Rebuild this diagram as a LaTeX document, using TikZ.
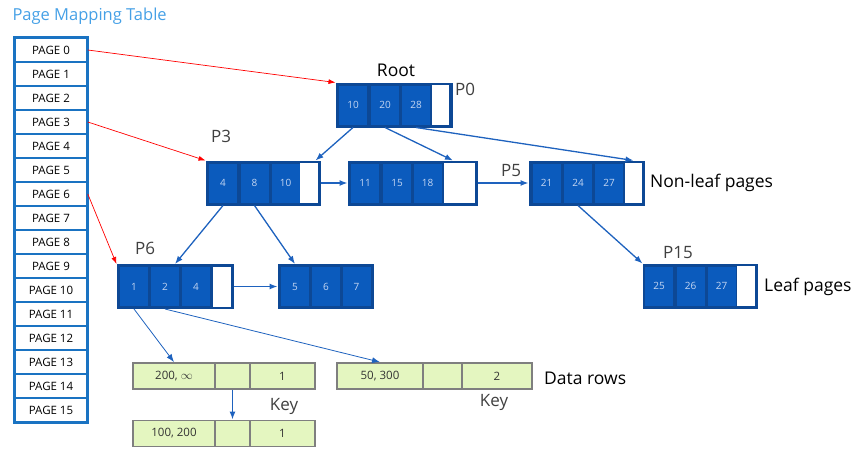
\documentclass[tikz,border=0pt]{standalone}
\usepackage{fontspec}
\setmainfont{Open Sans}
\usetikzlibrary{arrows.meta,calc}
\definecolor{tblblue}{HTML}{1A73C2}
\definecolor{frameblue}{HTML}{0D4895}
\definecolor{cellblue}{HTML}{0B5BBD}
\definecolor{celltext}{HTML}{C4D6F2}
\definecolor{rowfill}{HTML}{E4F6C0}
\definecolor{rowline}{HTML}{7F7F7F}
\definecolor{titleblue}{HTML}{45A0E6}
\definecolor{arrowblue}{HTML}{1E62BE}
\begin{document}
\begin{tikzpicture}[x=1pt,y=-1pt,
    pagerow/.style={draw=tblblue,line width=1.6pt,fill=white,minimum width=72,
      minimum height=24,inner sep=0pt,font=\fontsize{11.5}{13}\selectfont},
    frame/.style={draw=frameblue,fill=frameblue,line width=1pt,minimum height=44,inner sep=0pt},
    key/.style={fill=cellblue,draw=frameblue,line width=0.6pt,minimum width=29,
      minimum height=40,inner sep=0pt,text=celltext,font=\fontsize{10}{11}\selectfont},
    free/.style={fill=white,minimum width=18,minimum height=40,inner sep=0pt},
    row/.style={draw=rowline,fill=rowfill,line width=1.8pt,minimum height=26,
      inner sep=0pt,font=\fontsize{11.5}{13}\selectfont,text=black!80},
    lbl/.style={font=\fontsize{17.5}{20}\selectfont,inner sep=0pt},
    plbl/.style={font=\fontsize{17}{20}\selectfont,inner sep=0pt,text=black!75},
    link/.style={draw=arrowblue,line width=1.3pt,-{Latex[length=8pt,width=6pt]}},
    ptr/.style={draw=red,line width=0.7pt,-{Latex[length=7pt,width=5pt]}}]
  \useasboundingbox (0,0) rectangle (863,450);
  \node[anchor=west,text=titleblue,font=\fontsize{16.5}{19}\selectfont] (title) at (9,16) {Page Mapping Table};
  % page mapping table
  \foreach \i in {0,...,15}
    \node[pagerow] (pg\i) at (51,50+24*\i) {PAGE \i};
  \draw[tblblue,line width=2.6pt] (pg0.north west) rectangle (pg15.south east);
  % root
  \node[frame,minimum width=116] (root) at (394,105) {};
  \node[key] (r10) at (353,105) {10};
  \node[key] (r20) at (385,105) {20};
  \node[key] (r28) at (416,105) {28};
  \node[free,minimum width=17] (rw) at (440.5,105) {};
  % non-leaf pages
  \node[frame,minimum width=114] (p3) at (263,183) {};
  \node[key] (p3k4) at (223,183) {4};
  \node[key] (p3k8) at (254.5,183) {8};
  \node[key] (p3k10) at (285.5,183) {10};
  \node[free] (p3w) at (309,183) {};
  \node[frame,minimum width=129] (mid) at (412.5,183) {};
  \node[key] (mk11) at (365,183) {11};
  \node[key] (mk15) at (397,183) {15};
  \node[key] (mk18) at (427.5,183) {18};
  \node[free,minimum width=31] (mw) at (459.5,183) {};
  \node[frame,minimum width=115] (p5) at (586.5,183) {};
  \node[key] (p5k21) at (546.5,183) {21};
  \node[key] (p5k24) at (578,183) {24};
  \node[key] (p5k27) at (609,183) {27};
  \node[free,minimum width=17] (p5w) at (633.5,183) {};
  % leaf pages
  \node[frame,minimum width=116] (p6) at (175,286.5) {};
  \node[key] (p6k1) at (134,286.5) {1};
  \node[key] (p6k2) at (165,286.5) {2};
  \node[key] (p6k4) at (196,286.5) {4};
  \node[free] (p6w) at (222,286.5) {};
  \node[frame,minimum width=95] (lf) at (325.5,286.5) {};
  \node[key] (l5) at (295,286.5) {5};
  \node[key] (l6) at (326,286.5) {6};
  \node[key] (l7) at (356.5,286.5) {7};
  \node[frame,minimum width=114] (p15) at (700,286) {};
  \node[key] (p15k25) at (659,286) {25};
  \node[key] (p15k26) at (690.5,286) {26};
  \node[key] (p15k27) at (721.5,286) {27};
  \node[free] (p15w) at (746,286) {};
  % data rows
  \node[row,minimum width=82] (d1a) at (174,376) {200, $\infty$};
  \node[row,minimum width=35] (d1b) at (232.5,376) {};
  \node[row,minimum width=65] (d1c) at (282.5,376) {1};
  \node[row,minimum width=86] (d2a) at (380,376) {50, 300};
  \node[row,minimum width=39] (d2b) at (442.5,376) {};
  \node[row,minimum width=70] (d2c) at (497,376) {2};
  \node[row,minimum width=82] (d3a) at (174,433.5) {100, 200};
  \node[row,minimum width=35] (d3b) at (232.5,433.5) {};
  \node[row,minimum width=65] (d3c) at (282.5,433.5) {1};
  % labels
  \node[lbl] (lroot) at (396,70) {Root};
  \node[plbl] (lp0) at (465,89) {P0};
  \node[plbl] (lp3) at (221,136) {P3};
  \node[plbl] (lp5) at (511,171) {P5};
  \node[plbl] (lp6) at (145,248) {P6};
  \node[plbl] (lp15) at (678,253) {P15};
  \node[lbl,anchor=west] (lnonleaf) at (650,183) {Non-leaf pages};
  \node[lbl,anchor=west] (lleaf) at (764,287) {Leaf pages};
  \node[lbl,anchor=west] (ldata) at (544,378) {Data rows};
  \node[plbl] (lkey1) at (284,406) {Key};
  \node[plbl] (lkey2) at (494,402) {Key};
  \begin{scope}[ptr]
    \draw (pg0.east) to (root.north west);
    \draw (pg3.east) to (p3.north west);
    \draw (pg6.east) to (p6.north west);
  \end{scope}
  \begin{scope}[link]
    \draw (r10.south |- root.south) to ($(p3.north east)+(-5,0)$);
    \draw (r20.south |- root.south) to ($(mid.north)+(40.5,0)$);
    \draw (r28.south |- root.south) to (p5.north -| p5w.center);
    \draw (p3.east) to (mid.west);
    \draw (mid.east) to (p5.west);
    \draw (p3k4.south |- p3.south) to (p6.north);
    \draw (p3k8.south |- p3.south) to (lf.north -| l5.center);
    \draw (p6.east) to (lf.west);
    \draw (p5k24.south |- p5.south) to (p15.north west);
    \draw[line width=0.8pt] (p6k1.south |- p6.south) to (d1a.north);
    \draw[line width=0.8pt] (p6k2.south |- p6.south) to (d2a.north);
    \draw (d1b.south) to (d3b.north);
  \end{scope}
\end{tikzpicture}
\end{document}
